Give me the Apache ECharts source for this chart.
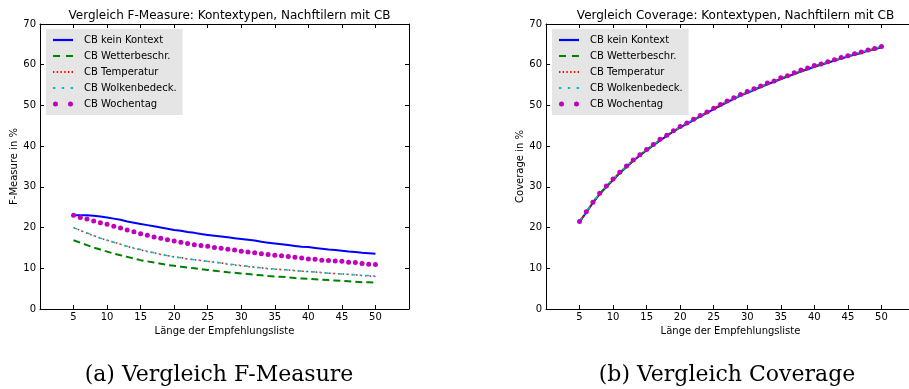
<!DOCTYPE html>
<html>
<head>
<meta charset="utf-8">
<script src="https://cdn.jsdelivr.net/npm/echarts@6/dist/echarts.min.js"></script>
<style>
html,body{margin:0;padding:0;background:#fff;overflow:hidden;width:909px;height:389px;}
#chart{width:930px;height:389px;}
</style>
</head>
<body>
<div id="chart"></div>
<script>
// ---- data ----
const listLength = [5,6,7,8,9,10,11,12,13,14,15,16,17,18,19,20,21,22,23,24,25,26,27,28,29,30,31,32,33,34,35,36,37,38,39,40,41,42,43,44,45,46,47,48,49,50];
const xTickLabels = [5,10,15,20,25,30,35,40,45,50];
const seriesNames = ['CB kein Kontext','CB Wetterbeschr.','CB Temperatur','CB Wolkenbedeck.','CB Wochentag'];

// F-Measure (%)
const fKeinKontext = [23.0,23.0,23.0,22.9,22.7,22.5,22.2,21.9,21.5,21.2,20.9,20.6,20.3,20.0,19.7,19.4,19.2,18.9,18.7,18.4,18.2,18.0,17.8,17.6,17.4,17.2,17.0,16.8,16.5,16.3,16.1,15.9,15.7,15.5,15.3,15.2,15.0,14.8,14.6,14.5,14.3,14.1,14.0,13.8,13.7,13.6];
const fWetter = [16.9,16.3,15.7,15.1,14.6,14.1,13.6,13.2,12.8,12.4,12.0,11.7,11.4,11.1,10.8,10.6,10.4,10.2,10.0,9.8,9.6,9.4,9.2,9.0,8.9,8.7,8.6,8.4,8.3,8.1,8.0,7.9,7.8,7.6,7.5,7.4,7.3,7.2,7.1,7.0,6.9,6.8,6.7,6.6,6.6,6.5];
const fTemperatur = [20.0,19.3,18.6,18.0,17.4,16.9,16.4,15.9,15.4,14.9,14.5,14.1,13.8,13.4,13.1,12.8,12.6,12.3,12.1,11.9,11.7,11.5,11.3,11.0,10.8,10.6,10.4,10.3,10.1,9.9,9.8,9.7,9.6,9.4,9.3,9.2,9.1,8.9,8.8,8.7,8.6,8.5,8.4,8.2,8.1,8.0];
const fWolken = [20.0,19.3,18.7,18.0,17.4,16.9,16.4,15.9,15.4,15.0,14.6,14.2,13.8,13.5,13.1,12.8,12.6,12.3,12.1,11.9,11.7,11.5,11.3,11.1,10.9,10.7,10.5,10.3,10.1,10.0,9.8,9.7,9.6,9.5,9.3,9.2,9.1,9.0,8.8,8.7,8.6,8.5,8.4,8.3,8.2,8.1];
const fWochentag = [23.0,22.5,22.1,21.6,21.2,20.8,20.3,19.9,19.4,19.0,18.5,18.1,17.7,17.4,17.0,16.7,16.4,16.1,15.8,15.6,15.4,15.1,14.9,14.7,14.5,14.2,14.0,13.8,13.6,13.4,13.2,13.1,12.9,12.7,12.5,12.3,12.2,12.0,11.9,11.8,11.7,11.5,11.4,11.2,11.0,10.9];

// Coverage (%)
const cKeinKontext = [21.4,23.7,26.1,28.2,30.0,31.7,33.4,34.9,36.4,37.7,39.0,40.2,41.4,42.5,43.6,44.6,45.5,46.4,47.3,48.2,49.1,49.9,50.8,51.6,52.4,53.1,53.8,54.5,55.2,55.8,56.5,57.1,57.7,58.3,58.9,59.5,60.0,60.5,61.0,61.5,62.0,62.5,62.9,63.4,63.8,64.3];
const cWetter = [21.5,23.8,26.2,28.3,30.1,31.8,33.5,35.0,36.5,37.8,39.1,40.3,41.5,42.6,43.7,44.7,45.6,46.5,47.4,48.3,49.2,50.1,50.9,51.7,52.5,53.2,53.9,54.6,55.3,55.9,56.6,57.2,57.8,58.4,59.0,59.6,60.1,60.6,61.1,61.6,62.1,62.6,63.0,63.5,63.9,64.4];
const cTemperatur = [21.5,23.8,26.2,28.3,30.1,31.8,33.5,35.0,36.5,37.8,39.1,40.3,41.5,42.6,43.7,44.7,45.6,46.5,47.4,48.3,49.2,50.1,50.9,51.7,52.5,53.2,53.9,54.6,55.3,55.9,56.6,57.2,57.8,58.4,59.0,59.6,60.1,60.6,61.1,61.6,62.1,62.6,63.0,63.5,63.9,64.4];
const cWolken = [21.6,23.9,26.3,28.4,30.2,31.9,33.6,35.1,36.6,37.9,39.2,40.4,41.6,42.7,43.8,44.8,45.7,46.6,47.5,48.4,49.3,50.2,51.0,51.8,52.6,53.3,54.0,54.7,55.4,56.0,56.7,57.3,57.9,58.5,59.1,59.7,60.2,60.7,61.2,61.7,62.2,62.7,63.1,63.6,64.0,64.5];
const cWochentag = [21.5,23.9,26.2,28.4,30.2,31.9,33.6,35.1,36.6,37.9,39.2,40.4,41.7,42.7,43.8,44.8,45.7,46.6,47.5,48.4,49.3,50.2,51.1,51.9,52.7,53.4,54.1,54.8,55.5,56.0,56.8,57.3,58.0,58.7,59.2,59.8,60.2,60.7,61.2,61.8,62.2,62.7,63.1,63.6,64.0,64.5];

const titles = ['Vergleich F-Measure: Kontextypen, Nachftilern mit CB','Vergleich Coverage: Kontextypen, Nachftilern mit CB'];
const yNames = ['F-Measure in %','Coverage in %'];
const xName = 'Länge der Empfehlungsliste';
const captions = ['(a) Vergleich F-Measure','(b) Vergleich Coverage'];

// ---- build ----
const pairs = (vals) => listLength.map((x, i) => [x, vals[i]]);
const FONT = 'DejaVu Sans';
const AXIS_COLOR = '#000';
const styles = [
  { color: '#0000ff', width: 2, type: 'solid', dots: false,
    icon: 'path://M0,0 H20 V2.2 H0 Z' },
  { color: '#008000', width: 2, type: [7, 4], dots: false,
    icon: 'path://M0,0 H7 V2.2 H0 Z M13,0 H20 V2.2 H13 Z' },
  { color: '#ff0000', width: 1.5, type: [1.5, 3], dots: false,
    icon: 'path://M0,0 H1.4 V1.8 H0 Z M3.7,0 H5.1 V1.8 H3.7 Z M7.4,0 H8.8 V1.8 H7.4 Z M11.2,0 H12.6 V1.8 H11.2 Z M14.9,0 H16.3 V1.8 H14.9 Z M18.6,0 H20 V1.8 H18.6 Z' },
  { color: '#00bfbf', width: 1.5, type: [4, 4, 1.5, 4], dots: false,
    icon: 'path://M0,0 H2.4 V2 H0 Z M8.8,0 H11.2 V2 H8.8 Z M17.6,0 H20 V2 H17.6 Z' },
  { color: '#bf00bf', width: 0, type: 'solid', dots: true,
    icon: 'path://M0,2.5 a2.5,2.5 0 1,0 5,0 a2.5,2.5 0 1,0 -5,0 Z M15,2.5 a2.5,2.5 0 1,0 5,0 a2.5,2.5 0 1,0 -5,0 Z' }
];
const gridLefts = [40, 546];
const gridW = 369, gridTop = 24, gridH = 285;
const captionCenters = [214, 722];

const option = {
  animation: false,
  backgroundColor: '#fff',
  textStyle: { fontFamily: FONT },
  title: [],
  grid: [],
  xAxis: [],
  yAxis: [],
  legend: [],
  series: []
};

[0, 1].forEach(g => {
  const L = gridLefts[g];
  option.title.push({
    text: titles[g], left: L + gridW / 2, top: 5, textAlign: 'center',
    textStyle: { fontFamily: FONT, fontSize: 12, fontWeight: 'normal', color: '#000' }
  });
  option.title.push({
    text: captions[g], left: captionCenters[g], top: 359, textAlign: 'center',
    textStyle: { fontFamily: 'DejaVu Serif', fontSize: 22, fontWeight: 'normal', color: '#000' }
  });
  option.grid.push({ left: L, top: gridTop, width: gridW, height: gridH, containLabel: false });
  const xBase = {
    type: 'value', gridIndex: g, min: 0, max: 55, interval: 5,
    splitLine: { show: false },
    axisLine: { show: true, onZero: false, lineStyle: { color: AXIS_COLOR, width: 1 } },
    axisTick: { show: true, inside: true, length: 4, lineStyle: { color: AXIS_COLOR } }
  };
  option.xAxis.push(Object.assign({}, xBase, {
    position: 'bottom',
    name: xName, nameLocation: 'middle', nameGap: 16,
    nameTextStyle: { fontFamily: FONT, fontSize: 10, color: '#000' },
    axisLabel: {
      fontFamily: FONT, fontSize: 10, color: '#000', margin: 3,
      formatter: v => (xTickLabels.indexOf(v) >= 0 ? String(v) : '')
    }
  }));
  option.xAxis.push(Object.assign({}, xBase, { position: 'top', axisLabel: { show: false } }));
  const yBase = {
    type: 'value', gridIndex: g, min: 0, max: 70, interval: 10,
    splitLine: { show: false },
    axisLine: { show: true, onZero: false, lineStyle: { color: AXIS_COLOR, width: 1 } },
    axisTick: { show: true, inside: true, length: 4, lineStyle: { color: AXIS_COLOR } }
  };
  option.yAxis.push(Object.assign({}, yBase, {
    position: 'left',
    name: yNames[g], nameLocation: 'middle', nameGap: 21,
    nameTextStyle: { fontFamily: FONT, fontSize: 10, color: '#000' },
    axisLabel: { fontFamily: FONT, fontSize: 10, color: '#000', margin: 4 }
  }));
  option.yAxis.push(Object.assign({}, yBase, { position: 'right', axisLabel: { show: false } }));

  const dataSets = g === 0
    ? [fKeinKontext, fWetter, fTemperatur, fWolken, fWochentag]
    : [cKeinKontext, cWetter, cTemperatur, cWolken, cWochentag];
  dataSets.forEach((vals, i) => {
    const s = styles[i];
    option.series.push({
      type: 'line', name: seriesNames[i],
      xAxisIndex: g * 2, yAxisIndex: g * 2,
      data: pairs(vals),
      symbol: s.dots ? 'circle' : 'none',
      symbolSize: 5,
      showSymbol: s.dots,
      itemStyle: { color: s.color },
      lineStyle: { color: s.color, width: s.width, type: s.type, opacity: s.dots ? 0 : 1 },
      z: 2 + i
    });
  });

  option.legend.push({
    orient: 'vertical', left: L + 6, top: 29,
    backgroundColor: '#e5e5e5', borderWidth: 0,
    padding: [5, 6, 5, 7],
    itemWidth: 20, itemHeight: 10, itemGap: 4,
    selectedMode: false,
    itemStyle: { borderWidth: 0 },
    textStyle: { fontFamily: FONT, fontSize: 10, color: '#000', lineHeight: 12, padding: [0, 0, 0, 6] },
    data: seriesNames.map((n, i) => ({ name: n, icon: styles[i].icon }))
  });
});

const chart = echarts.init(document.getElementById('chart'), null, { renderer: 'canvas', width: 930, height: 389 });
chart.setOption(option);
</script>
</body>
</html>
